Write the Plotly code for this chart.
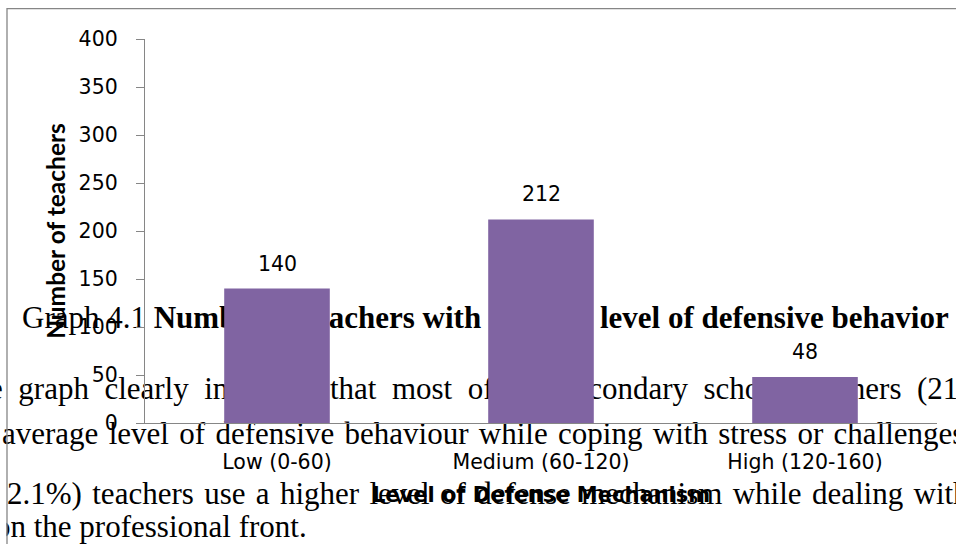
import plotly.graph_objects as go

# ---- chart data ----
categories = ["Low (0-60)", "Medium (60-120)", "High (120-160)"]
teachers = [140, 212, 48]
y_ticks = [0, 50, 100, 150, 200, 250, 300, 350, 400]

# ---- surrounding page text, one list per printed line ----
caption_plain = "Graph 4.1 "
caption_bold = "Number of teachers with average level of defensive behavior"
body_line_1 = ["The", "graph", "clearly", "indicates", "that", "most", "of", "the",
               "secondary", "school", "teachers", "(212)"]
body_line_2 = ["average", "level", "of", "defensive", "behaviour", "while", "coping",
               "with", "stress", "or", "challenges."]
body_line_3 = ["(12.1%)", "teachers", "use", "a", "higher", "level", "of", "defense",
               "mechanism", "while", "dealing", "with"]
body_line_4 = ["on", "the", "professional", "front."]

# ---- geometry ----
W, H = 956, 544
ML, MR, MT, MB = 145, 19, 38.5, 121
PW, PH = W - ML - MR, H - MT - MB

GRAY = "#868686"
PURPLE = "#8064A2"
CHART_FONT = "DejaVu Sans"
PAGE_FONT = "Liberation Serif"


def xp(px):
    return (px - ML) / PW


def yp(py):
    return (H - MB - py) / PH


def page_text(x_px, baseline_px, text, size=31):
    mid = baseline_px - 0.34 * size
    return dict(
        type="rect", xref="paper", yref="paper",
        x0=xp(x_px), x1=xp(x_px + 10), y0=yp(mid), y1=yp(mid),
        line=dict(width=0), layer="below",
        label=dict(text=text, textposition="middle left", padding=0,
                   font=dict(family=PAGE_FONT, size=size, color="black")),
    )


EN_SPACE = "\u2002"
THIRD_SPACE = "\u2004"

shapes = [
    page_text(19, 325, caption_plain + "<b>" + caption_bold + "</b>"),
    page_text(-48.4, 396, EN_SPACE.join(body_line_1)),
    page_text(-1, 441, THIRD_SPACE.join(body_line_2)),
    page_text(-21.8, 501.5, THIRD_SPACE.join(body_line_3)),
    page_text(-8, 534, " ".join(body_line_4)),
    # page margin left of the chart frame
    dict(type="rect", xref="paper", yref="paper",
         x0=xp(-20), x1=xp(6.5), y0=yp(H + 20), y1=yp(466),
         fillcolor="white", line=dict(width=0), layer="below"),
    # chart frame
    dict(type="rect", xref="paper", yref="paper",
         x0=xp(7), x1=xp(W + 40), y0=yp(H + 40), y1=yp(8),
         line=dict(color=GRAY, width=1.3), fillcolor="rgba(0,0,0,0)", layer="below"),
]

fig = go.Figure()
fig.add_trace(go.Bar(
    x=categories, y=teachers,
    marker=dict(color=PURPLE, line=dict(width=0)),
    hoverinfo="skip",
))

annotations = [
    dict(x=c, y=v, xref="x", yref="y", text=str(v), showarrow=False,
         yanchor="bottom", yshift=11,
         font=dict(family=CHART_FONT, size=20.5, color="black"))
    for c, v in zip(categories, teachers)
]

fig.update_layout(
    width=W, height=H,
    margin=dict(l=ML, r=MR, t=MT, b=MB, pad=0),
    paper_bgcolor="white",
    plot_bgcolor="rgba(0,0,0,0)",
    showlegend=False,
    bargap=0.6,
    shapes=shapes,
    annotations=annotations,
    xaxis=dict(
        range=[-0.5, 2.5],
        showline=True, linecolor=GRAY, linewidth=1.3,
        ticks="", showgrid=False, zeroline=False,
        tickfont=dict(family=CHART_FONT, size=20.5, color="black"),
        ticklabelstandoff=20,
        title=dict(text="<b>Level of Defense Mechanism</b>", standoff=14,
                   font=dict(family=CHART_FONT, size=21, color="black")),
        automargin=False,
    ),
    yaxis=dict(
        range=[0, 400], tickvals=y_ticks,
        showline=True, linecolor=GRAY, linewidth=1.3,
        ticks="outside", ticklen=8, tickcolor=GRAY, tickwidth=1.3,
        showgrid=False, zeroline=False,
        tickfont=dict(family=CHART_FONT, size=20.5, color="black"),
        ticklabelstandoff=14,
        title=dict(text="<b>Number of teachers</b>", standoff=6,
                   font=dict(family="Lato", size=24.5, color="black")),
        automargin=False,
    ),
)

fig.write_html("out.html")
